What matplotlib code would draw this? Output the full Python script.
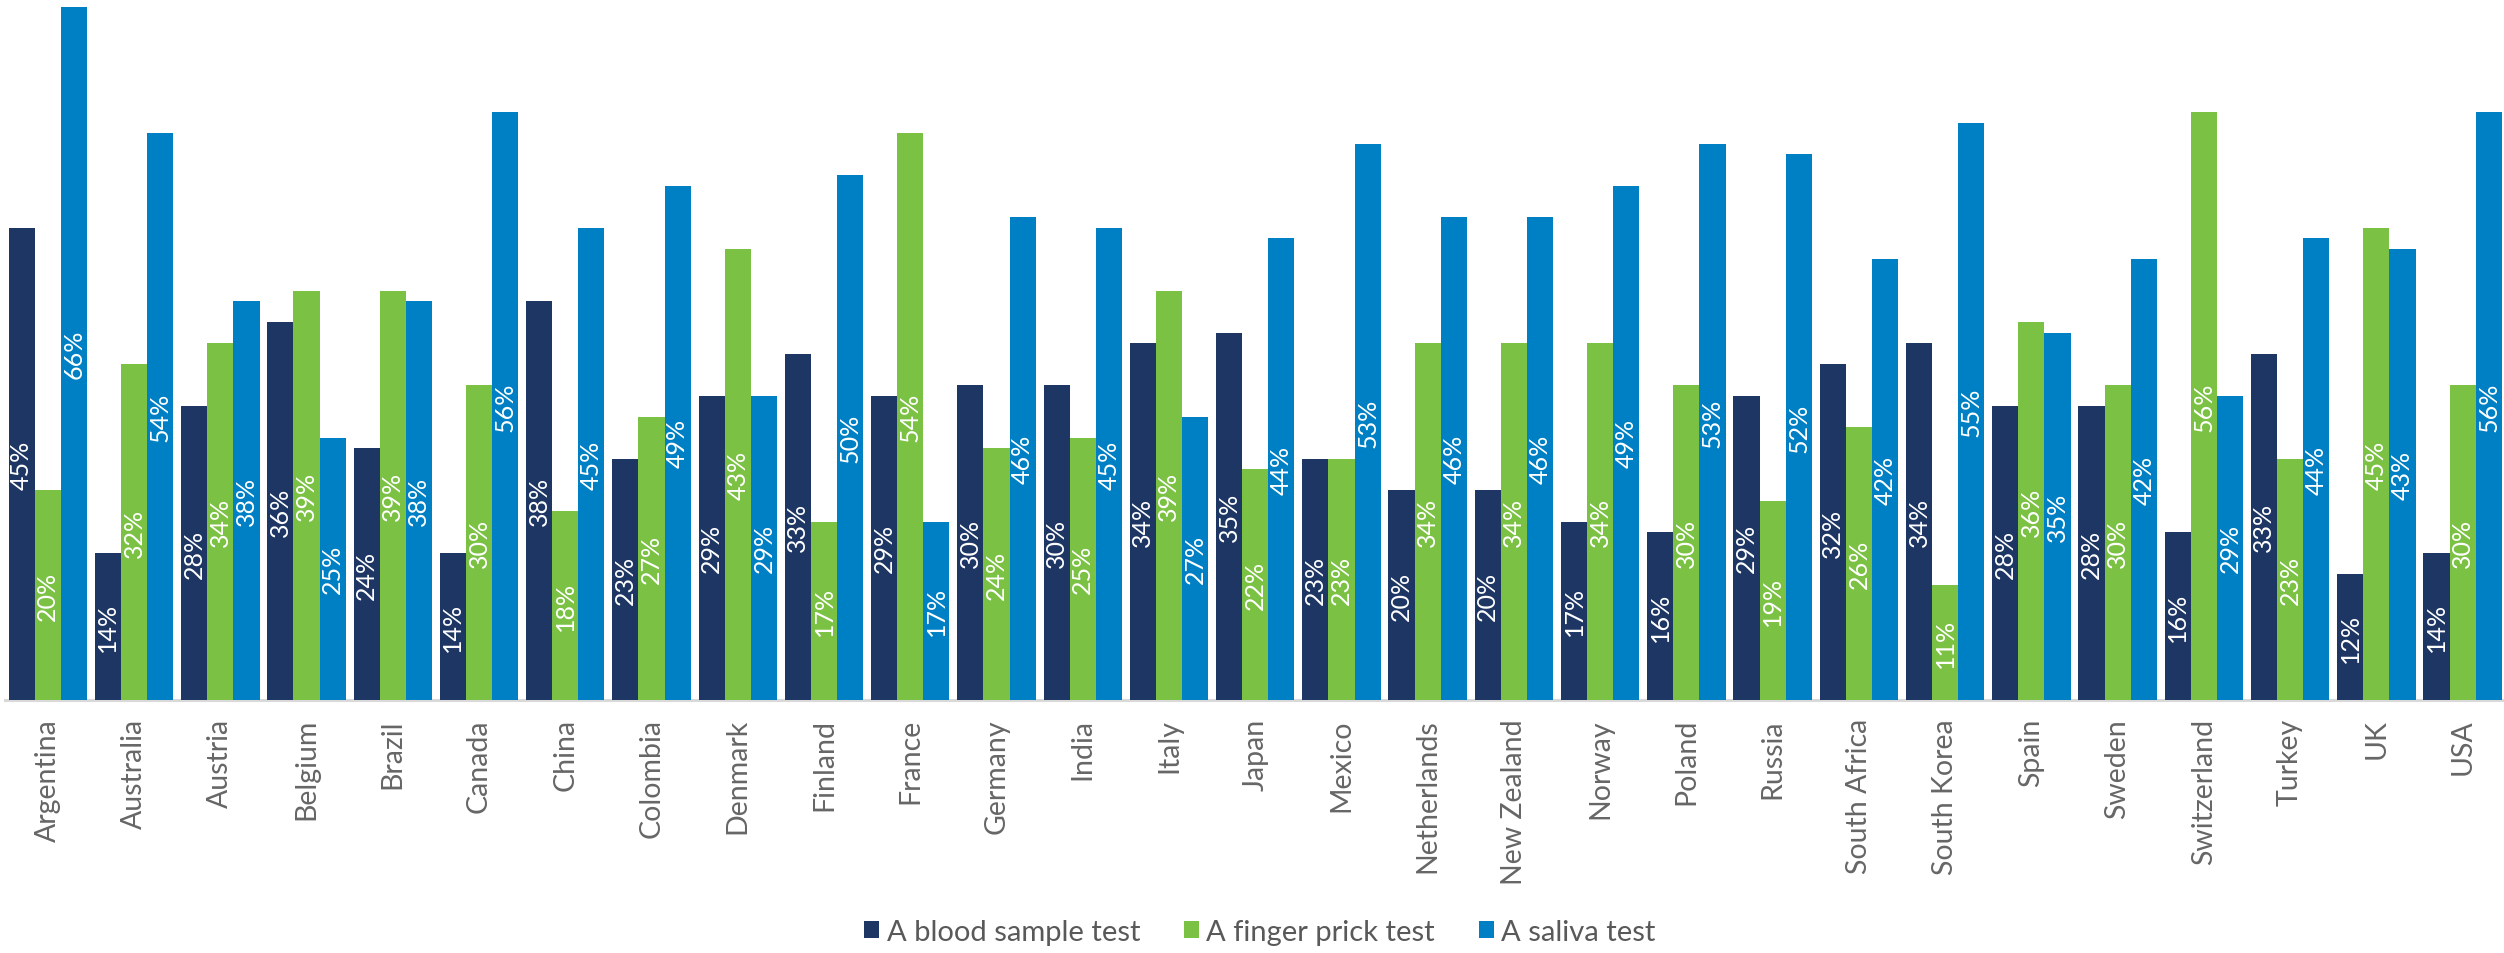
import numpy as np
import matplotlib
matplotlib.use("Agg")
import matplotlib.pyplot as plt

# DATA:

countries = ["Argentina", "Australia", "Austria", "Belgium", "Brazil", "Canada", "China",
             "Colombia", "Denmark", "Finland", "France", "Germany", "India", "Italy", "Japan",
             "Mexico", "Netherlands", "New Zealand", "Norway", "Poland", "Russia",
             "South Africa", "South Korea", "Spain", "Sweden", "Switzerland", "Turkey",
             "UK", "USA"]
blood = [45, 14, 28, 36, 24, 14, 38, 23, 29, 33, 29, 30, 30, 34, 35, 23, 20, 20, 17, 16,
         29, 32, 34, 28, 28, 16, 33, 12, 14]
finger = [20, 32, 34, 39, 39, 30, 18, 27, 43, 17, 54, 24, 25, 39, 22, 23, 34, 34, 34, 30,
          19, 26, 11, 36, 30, 56, 23, 45, 30]
saliva = [66, 54, 38, 25, 38, 56, 45, 49, 29, 50, 17, 46, 45, 27, 44, 53, 46, 46, 49, 53,
          52, 42, 55, 35, 42, 29, 44, 43, 56]
series_names = ["A blood sample test", "A finger prick test", "A saliva test"]

# STYLE:

COLORS = ["#1d3664", "#7bc143", "#0080c4"]
BAR_W = 0.303
FONT = ["Lato", "DejaVu Sans"]
W, H = 2504, 954

plt.rcParams['font.family'] = FONT

fig = plt.figure(figsize=(W / 100, H / 100), dpi=100)
ax = fig.add_axes([4.7 / W, 253 / H, 2501 / W, 701 / H])

x = np.arange(len(countries))
for k, vals in enumerate([blood, finger, saliva]):
    pos = x + (k - 1) * BAR_W
    bars = ax.bar(pos, vals, width=BAR_W, color=COLORS[k], label=series_names[k], zorder=3)
    for b, v in zip(bars, vals):
        ax.text(b.get_x() + b.get_width() / 2, v / 2, f"{v}%", rotation=90,
                ha="center", va="center", color="white", fontsize=18, zorder=4)

ax.set_xlim(-0.5, len(countries) - 0.5)
ax.set_ylim(0, 66.8)
ax.set_xticks(x)
ax.set_xticklabels(countries, rotation=90, fontsize=20.5, color="#666666",
                   va="top", ha="center")
ax.tick_params(axis="x", length=0, pad=13)
ax.set_yticks([])
for s in ["top", "right", "left"]:
    ax.spines[s].set_visible(False)
ax.spines["bottom"].set_color("#d9d9d9")
ax.spines["bottom"].set_linewidth(2.2)
ax.spines["bottom"].set_zorder(1)

leg = fig.legend(loc="center", bbox_to_anchor=(1260 / W, 1 - 933 / H), ncol=3,
                 frameon=False, handlelength=0.52, handleheight=0.52,
                 handletextpad=0.25, columnspacing=1.5,
                 prop={"family": FONT, "size": 21})
for t in leg.get_texts():
    t.set_color("#595959")

fig.savefig("out.png", dpi=100)
